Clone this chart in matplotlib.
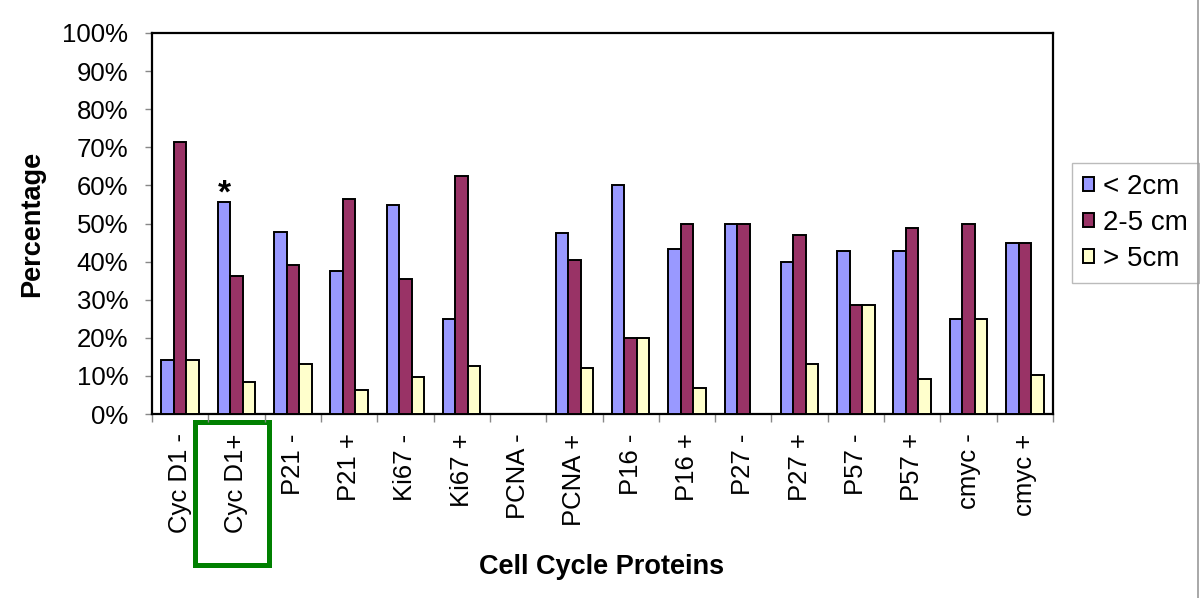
import matplotlib
matplotlib.use("Agg")
import matplotlib.pyplot as plt
import numpy as np
from matplotlib.patches import Rectangle
from matplotlib.lines import Line2D
import matplotlib.transforms as mtransforms

plt.rcParams['font.family'] = ['Liberation Sans', 'DejaVu Sans']

categories = ["Cyc D1 -", "Cyc D1+", "P21 -", "P21 +", "Ki67 -", "Ki67 +", "PCNA -", "PCNA +",
              "P16 -", "P16 +", "P27 -", "P27 +", "P57 -", "P57 +", "cmyc -", "cmyc +"]
series_names = ["< 2cm", "2-5 cm", "> 5cm"]
small = [14.3, 55.6, 47.8, 37.5, 54.8, 25.0, 0, 47.4, 60.0, 43.3, 50.0, 40.0, 42.9, 42.7, 25.0, 44.8]
medium = [71.4, 36.1, 39.1, 56.3, 35.5, 62.5, 0, 40.5, 20.0, 50.0, 50.0, 47.0, 28.6, 48.7, 50.0, 44.8]
large = [14.3, 8.3, 13.0, 6.3, 9.7, 12.5, 0, 12.1, 20.0, 6.7, 0, 13.0, 28.6, 9.2, 25.0, 10.3]
yticks = list(range(0, 101, 10))
colors = ["#9999FF", "#993366", "#FFFFCC"]

fig = plt.figure(figsize=(12, 5.98), dpi=100)
ax = fig.add_axes([152/1200, 1-414/598, 901/1200, 381/598])

x = np.arange(len(categories))
w = 1/4.5
for k, (vals, c, name) in enumerate(zip([small, medium, large], colors, series_names)):
    ax.bar(x + (k-1)*w, vals, width=w, color=c, edgecolor='black', linewidth=1.4, label=name, zorder=3)

ax.set_xlim(-0.5, len(categories)-0.5)
ax.set_ylim(0, 100)
ax.set_yticks(yticks)
ax.set_yticklabels([f"{t}%" for t in yticks], fontsize=18.5)
ax.tick_params(axis='y', direction='out', length=5, color='#888888', width=1, pad=12)

ax.set_xticks(x)
ax.set_xticklabels(categories, rotation=90, fontsize=18.5, va='top', ha='center')
ax.tick_params(axis='x', which='major', length=0, pad=14)
ax.set_xticks(np.arange(-0.5, len(categories), 1), minor=True)
ax.tick_params(axis='x', which='minor', direction='out', length=6, color='#888888', width=1)

for s in ax.spines.values():
    s.set_linewidth(1.6)
    s.set_color('black')

ax.set_ylabel("Percentage", fontsize=19.5, fontweight='bold')
ax.yaxis.set_label_coords((45-152)/901, 0.5)
ax.set_xlabel("Cell Cycle Proteins", fontsize=19.5, fontweight='bold')
ax.xaxis.set_label_coords((602-152)/901, -(554-414)/381)

# asterisk above Cyc D1+ (< 2cm bar)
ax.text(1 - w, small[1] - 2, "*", fontsize=24, fontweight='bold', ha='center', va='bottom')

# green highlight box around Cyc D1+ label
trans = mtransforms.blended_transform_factory(ax.transData, ax.transAxes)
rect = Rectangle((1 - 0.74, -(565-414)/381), 1.32, (565-421.5)/381, transform=trans,
                 fill=False, edgecolor='#008000', linewidth=3.6, clip_on=False)
ax.add_patch(rect)

leg = ax.legend(loc='upper left', bbox_to_anchor=(1072/1200, 1-163/598), bbox_transform=fig.transFigure,
                borderaxespad=0, fontsize=20, frameon=True, fancybox=False, edgecolor='#aaaaaa',
                handlelength=0.4, handleheight=0.4, handletextpad=0.3, labelspacing=0.35,
                borderpad=0.4)
leg.get_frame().set_linewidth(1.0)

fig.add_artist(Line2D([1198/1200, 1198/1200], [0, 1], color='#999999', linewidth=1.2))

fig.savefig("out.png", dpi=100)
